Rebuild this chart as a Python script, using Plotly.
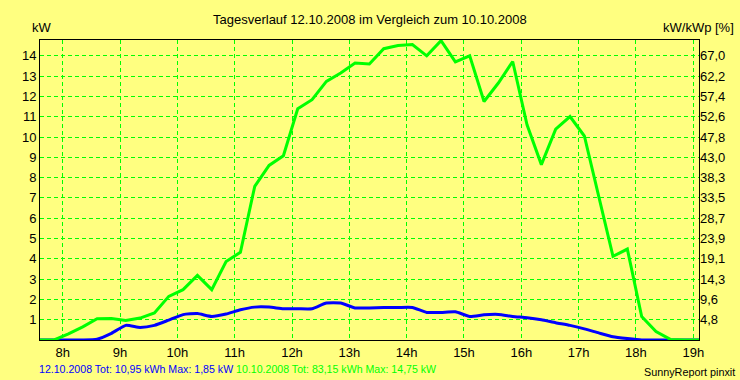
import plotly.graph_objects as go

# time stamps (hours of day)
times = [7.60, 7.85, 8.10, 8.35, 8.60, 8.85, 9.10, 9.35, 9.60, 9.85,
         10.10, 10.35, 10.60, 10.85, 11.10, 11.35, 11.60, 11.85,
         12.10, 12.35, 12.60, 12.85, 13.10, 13.35, 13.60, 13.85,
         14.10, 14.35, 14.60, 14.85, 15.10, 15.35, 15.60, 15.85,
         16.10, 16.35, 16.60, 16.85, 17.10, 17.35, 17.60, 17.85,
         18.10, 18.35, 18.60, 18.85, 19.10, 19.35]

# 10.10.2008 (kW)
green_kw = [0.0, 0.0, 0.30, 0.65, 1.05, 1.06, 0.96, 1.08, 1.33, 2.15,
            2.48, 3.18, 2.48, 3.87, 4.32, 7.57, 8.60, 9.08,
            11.39, 11.84, 12.74, 13.15, 13.65, 13.60, 14.35, 14.51,
            14.56, 14.00, 14.75, 13.70, 14.00, 11.75, 12.66, 13.72,
            10.60, 8.64, 10.39, 11.01, 10.05, 7.10, 4.12, 4.48,
            1.16, 0.42, 0.03, 0.0, 0.0, 0.0]

# 12.10.2008 (kW)
blue_kw = [0.0, 0.0, 0.0, 0.0, 0.04, 0.33, 0.72, 0.62, 0.72, 0.98,
           1.25, 1.30, 1.16, 1.28, 1.49, 1.62, 1.62, 1.54,
           1.54, 1.54, 1.82, 1.82, 1.58, 1.58, 1.60, 1.60,
           1.60, 1.36, 1.36, 1.39, 1.16, 1.24, 1.26, 1.16,
           1.10, 1.00, 0.85, 0.72, 0.55, 0.35, 0.16, 0.07,
           0.0, 0.0, 0.0, 0.0, 0.0, 0.0]

x_tickvals = [8, 9, 10, 11, 12, 13, 14, 15, 16, 17, 18, 19]
x_ticktext = ["8h", "9h", "10h", "11h", "12h", "13h", "14h", "15h", "16h", "17h", "18h", "19h"]
y_tickvals = [1, 2, 3, 4, 5, 6, 7, 8, 9, 10, 11, 12, 13, 14]
y_ticktext = [str(v) for v in y_tickvals]
y2_ticktext = ["4,8", "9,6", "14,3", "19,1", "23,9", "28,7", "33,5", "38,3",
               "43,0", "47,8", "52,6", "57,4", "62,2", "67,0"]

title_text = "Tagesverlauf 12.10.2008 im Vergleich zum 10.10.2008"
blue_label = "12.10.2008 Tot: 10,95 kWh Max: 1,85 kW"
green_label = "10.10.2008 Tot: 83,15 kWh Max: 14,75 kW"

BG = "#FFFF80"
GREEN = "#00FF00"
BLUE = "#0000FF"
FONT = "Liberation Sans, Arial, sans-serif"

fig = go.Figure()
fig.add_trace(go.Scatter(x=times, y=blue_kw, mode="lines",
                         line=dict(color=BLUE, width=3, shape="spline", smoothing=0.5),
                         hoverinfo="skip", showlegend=False))
fig.add_trace(go.Scatter(x=times, y=green_kw, mode="lines",
                         line=dict(color=GREEN, width=3),
                         hoverinfo="skip", showlegend=False))
fig.add_trace(go.Scatter(x=[None], y=[None], yaxis="y2", mode="lines",
                         hoverinfo="skip", showlegend=False))

YR = [0, 14.78]
fig.update_layout(
    width=740, height=380,
    margin=dict(l=40, r=41, t=40, b=40),
    paper_bgcolor=BG, plot_bgcolor=BG,
    font=dict(family=FONT, size=13, color="black"),
    xaxis=dict(range=[7.604, 19.1], tickvals=x_tickvals, ticktext=x_ticktext,
               showgrid=True, gridcolor=GREEN, griddash="4px,3px", gridwidth=1,
               showline=True, linecolor="black", linewidth=1, mirror=True,
               ticks="", zeroline=False, fixedrange=True),
    yaxis=dict(range=YR, tickvals=y_tickvals, ticktext=y_ticktext,
               showgrid=True, gridcolor=GREEN, griddash="4px,3px", gridwidth=1,
               showline=True, linecolor="black", linewidth=1, mirror=True,
               ticks="", zeroline=False, fixedrange=True),
    yaxis2=dict(range=YR, overlaying="y", side="right", tickvals=y_tickvals,
                ticktext=y2_ticktext, showgrid=False, zeroline=False, ticks="",
                showline=False, fixedrange=True),
    annotations=[
        dict(text=title_text, xref="paper", yref="paper", x=0.5, y=1.067,
             xanchor="center", yanchor="middle", showarrow=False,
             font=dict(size=13)),
        dict(text="kW", xref="paper", yref="paper", x=-0.0152, y=1.041,
             xanchor="left", yanchor="middle", showarrow=False,
             font=dict(size=13)),
        dict(text="kW/kWp [%]", xref="paper", yref="paper", x=1.056, y=1.041,
             xanchor="right", yanchor="middle", showarrow=False,
             font=dict(size=13)),
        dict(text="<span style='color:%s'>%s</span> <span style='color:%s'>%s</span>"
                  % (BLUE, blue_label, GREEN, green_label),
             xref="paper", yref="paper", x=-0.004, y=-0.097,
             xanchor="left", yanchor="middle", showarrow=False,
             font=dict(size=10.6)),
        dict(text="SunnyReport pinxit", xref="paper", yref="paper", x=1.0577, y=-0.105,
             xanchor="right", yanchor="middle", showarrow=False,
             font=dict(size=10.8)),
    ],
)

fig.write_html("out.html", config={"displayModeBar": False},
               post_script="document.body.style.margin='0';document.body.style.padding='0';document.body.style.overflow='hidden';")
